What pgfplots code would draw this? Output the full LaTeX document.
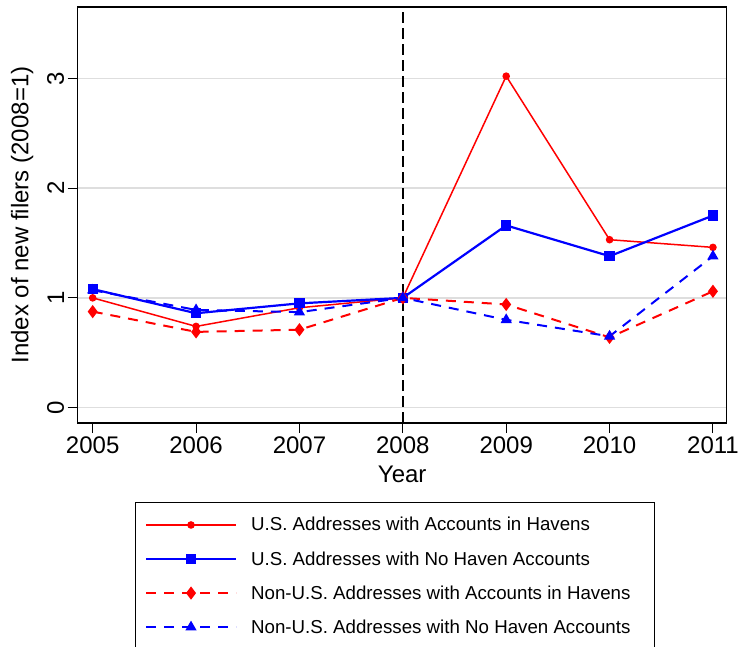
\documentclass[border=0pt]{standalone}
\usepackage{fontspec}
\setmainfont{Liberation Sans}
\usepackage{pgfplots}
\pgfplotsset{compat=1.18}
\definecolor{gridgray}{RGB}{222,222,222}
\definecolor{pred}{RGB}{255,0,0}
\definecolor{pblue}{RGB}{0,0,255}
\begin{document}
\begin{tikzpicture}
\begin{axis}[
  scale only axis,
  width=649pt, height=416pt,
  xmin=2004.855, xmax=2011.133,
  ymin=-0.14, ymax=3.65,
  xtick={2005,2006,2007,2008,2009,2010,2011},
  xticklabels={2005,2006,2007,2008,2009,2010,2011},
  ytick={0,1,2,3},
  yticklabels={0,1,2,3},
  xtick pos=left, ytick pos=left,
  tick align=outside,
  major tick length=10pt,
  tick style={black, line width=1pt},
  axis line style={black, line width=1.4pt},
  ymajorgrids,
  major grid style={gridgray, line width=1.6pt},
  tick label style={font=\fontsize{24}{28}\selectfont},
  yticklabel style={rotate=90, anchor=south},
  label style={font=\fontsize{24}{28}\selectfont},
  xlabel={Year},
  ylabel={Index of new filers (2008=1)},
  xlabel shift=6pt,
  ylabel shift=7pt,
  legend style={at={(0.0883,-0.19)}, anchor=north west, draw=black, line width=0.8pt,
    font=\fontsize{18.7}{22}\selectfont, row sep=15pt, column sep=12pt, inner xsep=9.5pt, inner ysep=13pt},
  legend cell align=left,
  legend image code/.code={\draw[mark repeat=2, mark phase=2, #1] plot coordinates {(0pt,0pt) (45pt,0pt) (90pt,0pt)};},
]
\coordinate (BL) at (rel axis cs:0,0);
\coordinate (TR) at (rel axis cs:1,1);
\addplot[black, line width=1.8pt, dash pattern=on 11pt off 5pt, forget plot] coordinates {(2008,-0.14) (2008,3.65)};
\addplot[pred, line width=1.5pt, mark=*, mark size=3pt] coordinates {
(2005,1.00) (2006,0.74) (2007,0.91) (2008,1.00) (2009,3.02) (2010,1.53) (2011,1.46)};
\addlegendentry{U.S. Addresses with Accounts in Havens}
\addplot[pblue, line width=2.2pt, mark=square*, mark size=4pt] coordinates {
(2005,1.08) (2006,0.86) (2007,0.95) (2008,1.00) (2009,1.66) (2010,1.38) (2011,1.75)};
\addlegendentry{U.S. Addresses with No Haven Accounts}
\addplot[pred, line width=2pt, dash pattern=on 10pt off 8pt, mark=diamond*, mark size=5pt, mark options={solid}] coordinates {
(2005,0.875) (2006,0.69) (2007,0.71) (2008,1.00) (2009,0.94) (2010,0.64) (2011,1.06)};
\addlegendentry{Non-U.S. Addresses with Accounts in Havens\rule{12pt}{0pt}}
\addplot[pblue, line width=2pt, dash pattern=on 10pt off 8pt, mark=triangle*, mark size=4.5pt, mark options={solid}] coordinates {
(2005,1.07) (2006,0.89) (2007,0.87) (2008,1.00) (2009,0.80) (2010,0.65) (2011,1.38)};
\addlegendentry{Non-U.S. Addresses with No Haven Accounts}
\end{axis}
\pgfresetboundingbox
\path[use as bounding box] ([xshift=-77.7pt,yshift=-224pt]BL) rectangle ([xshift=11.3pt,yshift=7pt]TR);
\end{tikzpicture}
\end{document}
